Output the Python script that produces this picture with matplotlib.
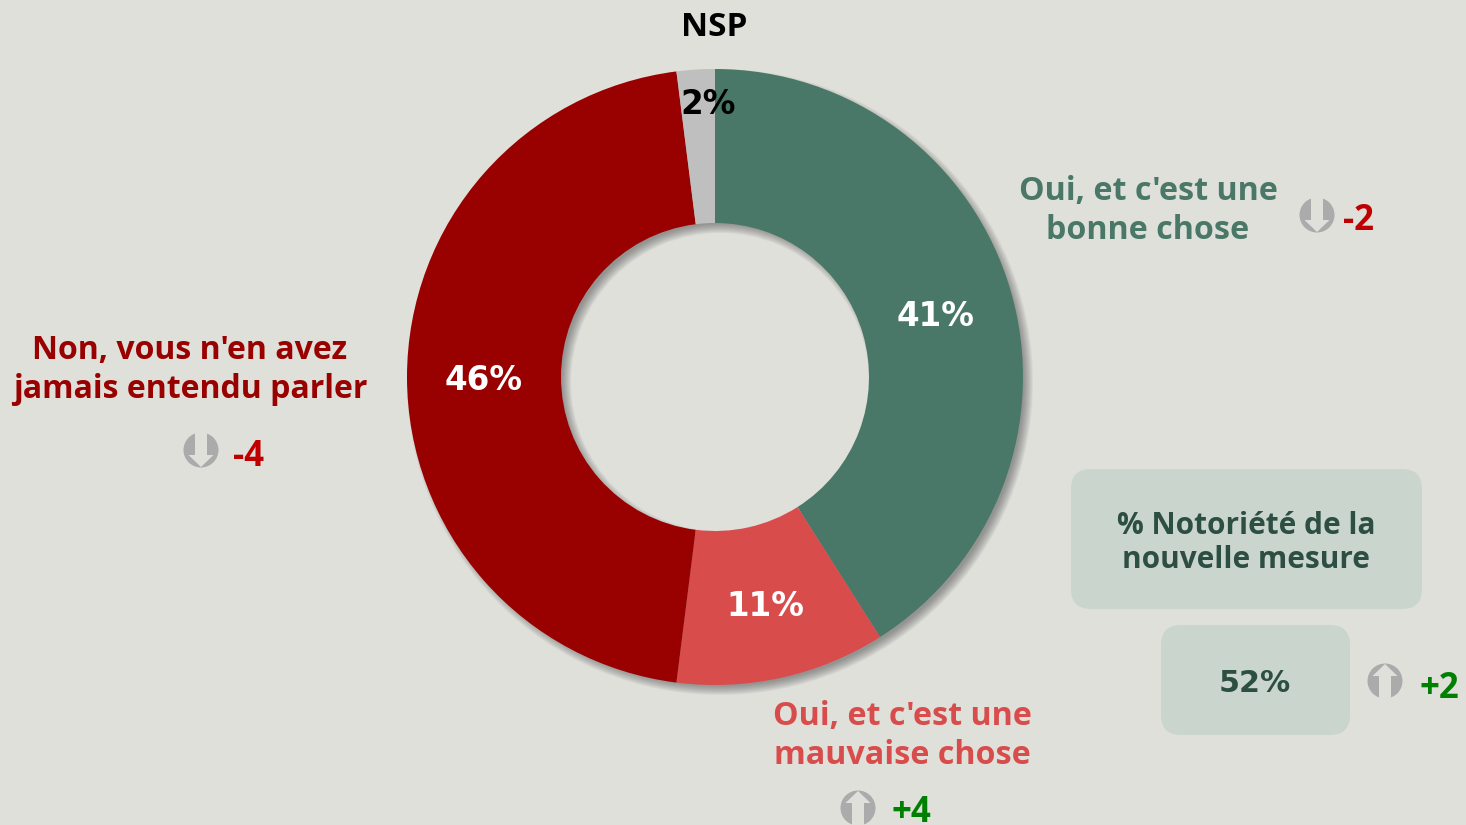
import matplotlib
matplotlib.use('Agg')
import matplotlib.pyplot as plt
from matplotlib.patches import Wedge, Circle, Polygon, FancyBboxPatch

categories = ["Oui, et c'est une\nbonne chose", "Oui, et c'est une\nmauvaise chose",
              "Non, vous n'en avez\njamais entendu parler", "NSP"]
values = [41, 11, 46, 2]
pct_labels = ['41%', '11%', '46%', '2%']
changes = ['-2', '+4', '-4']
notoriete_label = '% Notoriété de la\nnouvelle mesure'
notoriete_value = '52%'
notoriete_change = '+2'

BG = '#DFE0DA'
GREEN = '#4A7868'
LIGHT_RED = '#D94C4C'
DARK_RED = '#990000'
GREY = '#BFBFBF'
ICON = '#ABABAB'
BOX = '#CAD5CD'
BOX_TEXT = '#2D4F43'
UP = '#008000'
DOWN = '#C00000'

W, H = 1466, 825
CX, CY = 715, 377
R_OUT, R_IN = 308, 154

plt.rcParams['font.family'] = ['Open Sans', 'DejaVu Sans']

fig = plt.figure(figsize=(14.66, 8.25), dpi=100, facecolor=BG)
ax = fig.add_axes([0, 0, 1, 1])


def py(y):
    # picture coordinates run downwards
    return H - y


def label(x, y, s, color, size=23, spacing=1.26, **kw):
    ax.text(x, py(y + 3), s, color=color, fontsize=size, fontweight='bold',
            ha='center', va='center', linespacing=spacing, zorder=5, **kw)


def pct(x, y, s, color, size=23.5):
    ax.text(x, py(y), s, color=color, fontsize=size, fontweight='bold',
            family='DejaVu Sans', ha='center', va='center', zorder=5)


def arrow_icon(x, y, up):
    s = 1 if up else -1
    ax.add_patch(Circle((x, py(y)), 17.5, fc=ICON, ec='none', zorder=3))
    pts = [(-6, -19), (6, -19), (6, 5), (12.5, 5), (0, 17), (-12.5, 5), (-6, 5)]
    ax.add_patch(Polygon([(x + a, py(y) + s * b) for a, b in pts],
                         fc=BG, ec='none', zorder=4))


# soft shadow under the ring
for i in range(10):
    ax.add_patch(Wedge((CX + 5, py(CY) - 5), R_OUT + 5 - i, 0, 360,
                       width=R_OUT - R_IN + 10 - 2 * i, fc='#444444', ec='none',
                       alpha=0.06, zorder=1))

ax.pie(values, colors=[GREEN, LIGHT_RED, DARK_RED, GREY], startangle=90,
       counterclock=False, center=(CX, py(CY)), radius=R_OUT, frame=True,
       wedgeprops=dict(width=R_OUT - R_IN, linewidth=0, zorder=2))
ax.set_xlim(0, W)
ax.set_ylim(0, H)
ax.set_aspect('auto')
ax.axis('off')

# percent labels
pct(936, 316, pct_labels[0], 'white')
pct(765, 606, pct_labels[1], 'white')
pct(484, 380, pct_labels[2], 'white')
pct(708, 104, pct_labels[3], 'black')

# category labels
label(1148, 208, categories[0], GREEN, size=23.2)
label(902, 733, categories[1], LIGHT_RED, size=23.2)
label(190, 367, categories[2], DARK_RED)
label(714, 24, categories[3], 'black', size=24)

# change markers
arrow_icon(1317, 215, False)
label(1358, 218, changes[0], DOWN, size=25)
arrow_icon(858, 808, True)
label(911, 810, changes[1], UP, size=25)
arrow_icon(201, 450, False)
label(248, 454, changes[2], DOWN, size=25)

# notoriety boxes
ax.add_patch(FancyBboxPatch((1071, py(609)), 351, 140, boxstyle='round,pad=0,rounding_size=20',
                            fc=BOX, ec='none'))
ax.add_patch(FancyBboxPatch((1161, py(735)), 189, 110, boxstyle='round,pad=0,rounding_size=20',
                            fc=BOX, ec='none'))
label(1246, 540, notoriete_label, BOX_TEXT, size=21.4, spacing=1.17)
pct(1255, 683, notoriete_value, BOX_TEXT, size=21.7)
arrow_icon(1385, 681, True)
label(1439, 686, notoriete_change, UP, size=25)

fig.savefig('out.png', dpi=100, facecolor=BG)
